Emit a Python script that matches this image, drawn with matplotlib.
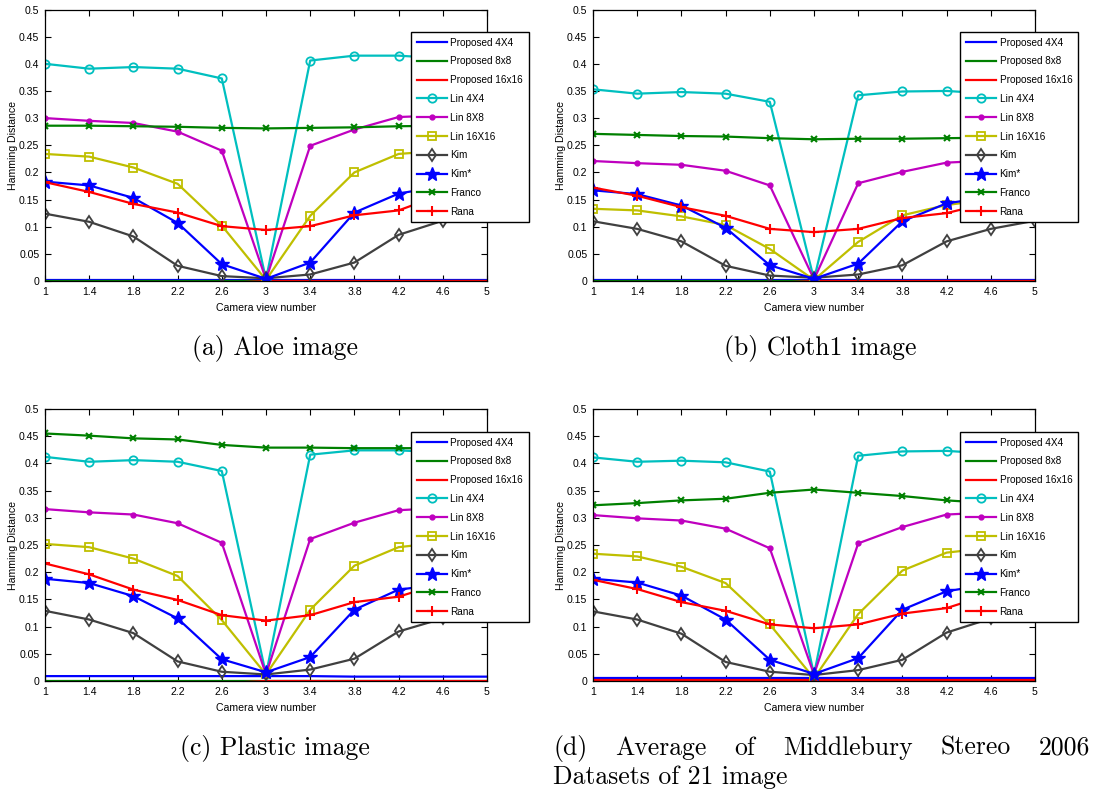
import matplotlib
matplotlib.use("Agg")
import matplotlib.pyplot as plt
from matplotlib import font_manager as fm

W, H = 1097, 796

# ---------------- data ----------------
views = [1, 1.4, 1.8, 2.2, 2.6, 3, 3.4, 3.8, 4.2, 4.6, 5]
xtick_labels = ["1", "1.4", "1.8", "2.2", "2.6", "3", "3.4", "3.8", "4.2", "4.6", "5"]
ytick_values = [0, 0.05, 0.1, 0.15, 0.2, 0.25, 0.3, 0.35, 0.4, 0.45, 0.5]
ytick_labels = ["0", "0.05", "0.1", "0.15", "0.2", "0.25", "0.3", "0.35", "0.4", "0.45", "0.5"]
series_names = ["Proposed 4X4", "Proposed 8x8", "Proposed 16x16", "Lin 4X4", "Lin 8X8",
                "Lin 16X16", "Kim", "Kim*", "Franco", "Rana"]

# (a) Aloe image
aloe_prop4 = [0.001] * 11
aloe_prop8 = [0.0] * 11
aloe_prop16 = [-0.004, -0.004, -0.004, -0.004, -0.004, 0.0, 0.0, 0.0, 0.0, 0.0, 0.0]
aloe_lin4 = [0.400, 0.391, 0.394, 0.391, 0.373, 0.003, 0.406, 0.415, 0.415, 0.410, 0.400]
aloe_lin8 = [0.300, 0.295, 0.291, 0.275, 0.240, 0.003, 0.249, 0.279, 0.302, 0.305, 0.300]
aloe_lin16 = [0.234, 0.229, 0.209, 0.179, 0.102, 0.002, 0.120, 0.200, 0.234, 0.240, 0.235]
aloe_kim = [0.124, 0.109, 0.082, 0.028, 0.009, 0.005, 0.012, 0.034, 0.085, 0.111, 0.124]
aloe_kims = [0.183, 0.176, 0.153, 0.107, 0.031, 0.004, 0.034, 0.126, 0.161, 0.175, 0.183]
aloe_franco = [0.286, 0.286, 0.285, 0.284, 0.282, 0.281, 0.282, 0.283, 0.285, 0.286, 0.286]
aloe_rana = [0.182, 0.164, 0.142, 0.126, 0.101, 0.094, 0.101, 0.121, 0.130, 0.160, 0.182]

# (b) Cloth1 image
cloth_prop4 = [0.001] * 11
cloth_prop8 = [0.0] * 11
cloth_prop16 = [-0.004, -0.004, -0.004, -0.004, -0.004, 0.0, 0.0, 0.0, 0.0, 0.0, 0.0]
cloth_lin4 = [0.353, 0.345, 0.348, 0.345, 0.330, 0.003, 0.342, 0.349, 0.350, 0.345, 0.350]
cloth_lin8 = [0.221, 0.217, 0.214, 0.203, 0.176, 0.003, 0.180, 0.201, 0.218, 0.222, 0.220]
cloth_lin16 = [0.133, 0.130, 0.119, 0.103, 0.059, 0.002, 0.072, 0.121, 0.140, 0.150, 0.140]
cloth_kim = [0.110, 0.096, 0.073, 0.028, 0.010, 0.006, 0.012, 0.029, 0.073, 0.096, 0.111]
cloth_kims = [0.167, 0.160, 0.139, 0.098, 0.029, 0.004, 0.032, 0.110, 0.143, 0.155, 0.167]
cloth_franco = [0.271, 0.269, 0.267, 0.266, 0.263, 0.261, 0.262, 0.262, 0.263, 0.264, 0.265]
cloth_rana = [0.172, 0.157, 0.136, 0.120, 0.096, 0.090, 0.096, 0.116, 0.125, 0.145, 0.170]

# (c) Plastic image
plastic_prop4 = [0.009, 0.009, 0.009, 0.009, 0.009, 0.009, 0.009, 0.008, 0.008, 0.008, 0.008]
plastic_prop8 = [0.0] * 11
plastic_prop16 = [-0.004, -0.004, -0.004, -0.004, -0.004, 0.0, 0.0, 0.0, 0.0, 0.0, 0.0]
plastic_lin4 = [0.412, 0.403, 0.406, 0.403, 0.386, 0.012, 0.416, 0.424, 0.424, 0.420, 0.412]
plastic_lin8 = [0.316, 0.310, 0.306, 0.290, 0.254, 0.012, 0.261, 0.291, 0.314, 0.318, 0.316]
plastic_lin16 = [0.252, 0.246, 0.225, 0.193, 0.112, 0.012, 0.131, 0.212, 0.246, 0.255, 0.252]
plastic_kim = [0.129, 0.113, 0.088, 0.036, 0.017, 0.012, 0.021, 0.041, 0.091, 0.115, 0.129]
plastic_kims = [0.188, 0.180, 0.156, 0.115, 0.040, 0.016, 0.044, 0.131, 0.168, 0.178, 0.188]
plastic_franco = [0.455, 0.451, 0.446, 0.444, 0.434, 0.429, 0.429, 0.428, 0.428, 0.428, 0.428]
plastic_rana = [0.216, 0.196, 0.168, 0.149, 0.121, 0.111, 0.121, 0.145, 0.155, 0.180, 0.216]

# (d) Average of Middlebury Stereo 2006 datasets
avg_prop4 = [0.006] * 11
avg_prop8 = [0.0] * 11
avg_prop16 = [0.001] * 11
avg_lin4 = [0.411, 0.403, 0.405, 0.402, 0.385, 0.012, 0.414, 0.422, 0.423, 0.418, 0.411]
avg_lin8 = [0.305, 0.299, 0.295, 0.280, 0.244, 0.012, 0.253, 0.283, 0.306, 0.310, 0.305]
avg_lin16 = [0.234, 0.229, 0.210, 0.180, 0.104, 0.005, 0.123, 0.203, 0.236, 0.245, 0.234]
avg_kim = [0.128, 0.113, 0.087, 0.035, 0.017, 0.011, 0.020, 0.039, 0.089, 0.115, 0.128]
avg_kims = [0.188, 0.181, 0.157, 0.113, 0.039, 0.013, 0.042, 0.131, 0.165, 0.178, 0.188]
avg_franco = [0.323, 0.327, 0.332, 0.335, 0.346, 0.352, 0.346, 0.340, 0.332, 0.327, 0.323]
avg_rana = [0.186, 0.169, 0.145, 0.129, 0.104, 0.097, 0.104, 0.124, 0.134, 0.160, 0.186]

panels = [
    [aloe_prop4, aloe_prop8, aloe_prop16, aloe_lin4, aloe_lin8, aloe_lin16, aloe_kim, aloe_kims, aloe_franco, aloe_rana],
    [cloth_prop4, cloth_prop8, cloth_prop16, cloth_lin4, cloth_lin8, cloth_lin16, cloth_kim, cloth_kims, cloth_franco, cloth_rana],
    [plastic_prop4, plastic_prop8, plastic_prop16, plastic_lin4, plastic_lin8, plastic_lin16, plastic_kim, plastic_kims, plastic_franco, plastic_rana],
    [avg_prop4, avg_prop8, avg_prop16, avg_lin4, avg_lin8, avg_lin16, avg_kim, avg_kims, avg_franco, avg_rana],
]
captions = ["(a) Aloe image", "(b) Cloth1 image", "(c) Plastic image"]
caption_d_line1 = ["(d)", "Average", "of", "Middlebury", "Stereo", "2006"]
caption_d_line2 = "Datasets of 21 image"

# ---------------- styles ----------------
styles = [
    dict(color=(0, 0, 1), marker=None),
    dict(color=(0, 0.5, 0), marker=None),
    dict(color=(1, 0, 0), marker=None),
    dict(color=(0, 0.75, 0.75), marker="o", ms=6, mfc="none", mew=1.3),
    dict(color=(0.75, 0, 0.75), marker=".", ms=7),
    dict(color=(0.75, 0.75, 0), marker="s", ms=5.5, mfc="none", mew=1.3),
    dict(color=(0.25, 0.25, 0.25), marker="d", ms=6.5, mfc="none", mew=1.3),
    dict(color=(0, 0, 1), marker="*", ms=10),
    dict(color=(0, 0.5, 0), marker="x", ms=4, mew=1.5),
    dict(color=(1, 0, 0), marker="+", ms=7, mew=1.5),
]

avail = {f.name for f in fm.fontManager.ttflist}
tick_font = ["Liberation Sans Narrow", "Liberation Sans", "DejaVu Sans"]
tick_font = [f for f in tick_font if f in avail] or ["DejaVu Sans"]
cap_font = "cmr10" if "cmr10" in avail else "DejaVu Serif"
TFS = 7.6
CFS = 18.5

fig = plt.figure(figsize=(W / 100, H / 100), dpi=100)

def rect(x0, x1, ytop, ybot):
    return [x0 / W, 1 - ybot / H, (x1 - x0) / W, (ybot - ytop) / H]

rects = [rect(45, 487, 9.5, 281), rect(593, 1035, 9.5, 281),
         rect(45, 487, 409, 681), rect(593, 1035, 409, 681)]
legend_anchor = [(411, 32), (960, 32), (411, 432), (960, 432)]

for p in range(4):
    ax = fig.add_axes(rects[p])
    data = panels[p]
    for i in range(10):
        st = dict(styles[i])
        color = st.pop("color")
        marker = st.pop("marker")
        kw = dict(color=color, lw=1.6, label=series_names[i])
        if marker is not None:
            kw["marker"] = marker
            kw["markersize"] = st.get("ms", 6)
            kw["markerfacecolor"] = st.get("mfc", color)
            kw["markeredgecolor"] = color
            kw["markeredgewidth"] = st.get("mew", 1.0)
        ax.plot(views, data[i], **kw)
    ax.set_xlim(1, 5)
    ax.set_ylim(0, 0.5)
    ax.set_xticks(views)
    ax.set_xticklabels(xtick_labels, family=tick_font, fontsize=TFS)
    ax.set_yticks(ytick_values)
    ax.set_yticklabels(ytick_labels, family=tick_font, fontsize=TFS)
    ax.tick_params(direction="in", top=True, right=True, length=4, width=0.8)
    ax.tick_params(axis="x", pad=4.5)
    ax.tick_params(axis="y", pad=4)
    for s in ax.spines.values():
        s.set_linewidth(0.9)
    ax.set_xlabel("Camera view number", family=tick_font, fontsize=TFS)
    ax.set_ylabel("Hamming Distance", family=tick_font, fontsize=TFS)
    ax.xaxis.set_label_coords(0.5, -(303 - 281) / 271.5)
    ax.yaxis.set_label_coords(-(45 - 18) / 442, 0.5)
    lx, ly = legend_anchor[p]
    leg = ax.legend(loc="upper left", bbox_to_anchor=(lx / W, 1 - ly / H),
                    bbox_transform=fig.transFigure, prop=dict(family=tick_font, size=7.2),
                    fancybox=False, framealpha=1, edgecolor="black", borderpad=0.55,
                    labelspacing=0.88, handlelength=3.0, handletextpad=0.4, borderaxespad=0)
    leg.get_frame().set_linewidth(1.0)

# captions
fig.text(275 / W, 1 - 349 / H, captions[0], family=cap_font, fontsize=CFS, ha="center", va="center")
fig.text(820 / W, 1 - 349 / H, captions[1], family=cap_font, fontsize=CFS, ha="center", va="center")
fig.text(275 / W, 1 - 748 / H, captions[2], family=cap_font, fontsize=CFS, ha="center", va="center")

# justified first line of caption (d)
x_start, x_end = 553, 1090
words = [fig.text(x_start / W, 1 - 748 / H, wd, family=cap_font, fontsize=CFS, ha="left", va="center")
         for wd in caption_d_line1]
fig.canvas.draw()
rend = fig.canvas.get_renderer()
widths = [t.get_window_extent(rend).width for t in words]
gap = (x_end - x_start - sum(widths)) / (len(words) - 1)
xc = x_start
for t, wdt in zip(words, widths):
    t.set_x(xc / W)
    xc += wdt + gap
fig.text(x_start / W, 1 - 777 / H, caption_d_line2, family=cap_font, fontsize=CFS, ha="left", va="center")

fig.savefig("out.png", dpi=100)
